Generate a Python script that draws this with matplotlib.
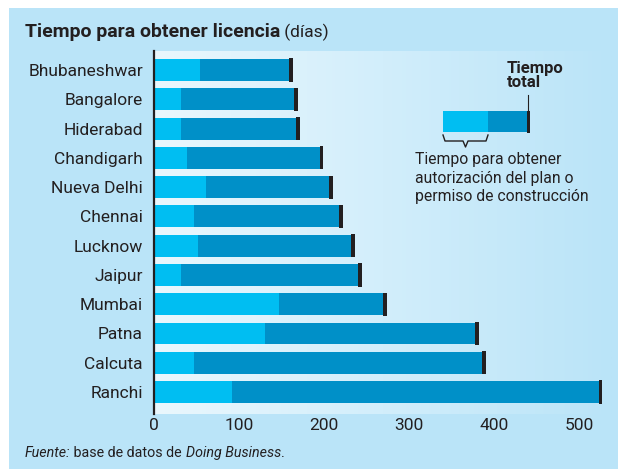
import matplotlib
matplotlib.use("Agg")
import matplotlib.pyplot as plt
import numpy as np
from matplotlib.patches import Rectangle
from matplotlib.lines import Line2D
from matplotlib.colors import LinearSegmentedColormap

plt.rcParams["font.family"] = ["Roboto", "DejaVu Sans"]

cities = ["Bhubaneshwar", "Bangalore", "Hiderabad", "Chandigarh", "Nueva Delhi",
          "Chennai", "Lucknow", "Jaipur", "Mumbai", "Patna", "Calcuta", "Ranchi"]
plan_days = [54, 32, 32, 39, 61, 47, 52, 32, 147, 130, 47, 92]
total_days = [163, 169, 171, 199, 210, 222, 236, 244, 274, 382, 390, 527]
xticks = [0, 100, 200, 300, 400, 500]

BG = "#BAE4F8"
LIGHT = "#00BEF2"
DARK = "#0090C8"
CAP = "#231F20"
CAP_W = 4.5

fig = plt.figure(figsize=(6.18, 4.69), dpi=100)
fig.patch.set_facecolor("white")
fig.patches.append(Rectangle((9 / 618, 0), 1, 1 - 8 / 469, transform=fig.transFigure,
                             facecolor=BG, edgecolor="none", zorder=-10))

ax = fig.add_axes([154 / 618, 1 - 414 / 469, (612 - 154) / 618, 363 / 469])
ax.patch.set_alpha(0)

# horizontal gradient panel behind the bars
grad = np.linspace(0, 1, 256).reshape(1, -1)
cmap = LinearSegmentedColormap.from_list("panel", ["#EAF7FD", "#D2EEFB", BG])
ax.imshow(grad, aspect="auto", cmap=cmap, extent=(0, 1, 0, 1),
          transform=ax.transAxes, zorder=0)

y = np.arange(len(cities))
h = 0.75
ax.barh(y, total_days, height=h, color=DARK, zorder=2)
ax.barh(y, plan_days, height=h, color=LIGHT, zorder=3)
ax.barh(y, [CAP_W] * len(cities), left=np.array(total_days) - CAP_W, height=h + 0.04,
        color=CAP, zorder=4)

ax.set_xlim(0, (612 - 154) / 0.851)
ax.set_ylim(11.75, -0.65)
ax.set_yticks(y)
ax.set_yticklabels(cities, fontsize=12.5, color=CAP)
ax.set_xticks(xticks)
ax.set_xticklabels([str(t) for t in xticks], fontsize=12.5, color=CAP)
ax.tick_params(axis="both", length=0)
ax.tick_params(axis="y", pad=8)
ax.tick_params(axis="x", pad=3)
for s in ["top", "right", "bottom"]:
    ax.spines[s].set_visible(False)
ax.spines["left"].set_color(CAP)
ax.spines["left"].set_linewidth(1.6)
ax.spines["left"].set_zorder(5)


# legend key, in axes fraction coordinates
def fx(px):
    return (px - 154) / 458


def fy(py):
    return (414 - py) / 363


ax.add_patch(Rectangle((fx(443), fy(132)), fx(530) - fx(443), fy(111) - fy(132),
                       transform=ax.transAxes, facecolor=DARK, edgecolor="none", zorder=6))
ax.add_patch(Rectangle((fx(443), fy(132)), fx(488) - fx(443), fy(111) - fy(132),
                       transform=ax.transAxes, facecolor=LIGHT, edgecolor="none", zorder=7))
ax.add_patch(Rectangle((fx(526.5), fy(132.5)), fx(530) - fx(526.5), fy(110.5) - fy(132.5),
                       transform=ax.transAxes, facecolor=CAP, edgecolor="none", zorder=8))
ax.add_line(Line2D([fx(527.5), fx(527.5)], [fy(111), fy(95)], transform=ax.transAxes,
                   color=CAP, lw=0.8, zorder=8))
brace_x = [443, 445, 463, 465.5, 468, 486, 488]
brace_y = [135, 141, 141, 147, 141, 141, 135]
ax.add_line(Line2D([fx(v) for v in brace_x], [fy(v) for v in brace_y],
                   transform=ax.transAxes, color=CAP, lw=1.0, zorder=8,
                   solid_joinstyle="round"))
ax.text(fx(507), fy(61), "Tiempo\ntotal", transform=ax.transAxes, ha="left", va="top",
        fontsize=12, fontweight="bold", color=CAP, linespacing=0.95, zorder=9)
ax.text(fx(415), fy(152), "Tiempo para obtener\nautorización del plan o\npermiso de construcción",
        transform=ax.transAxes, ha="left", va="top", fontsize=11.3, color=CAP,
        linespacing=1.3, zorder=9)


def chain(parts, x, ybase, size):
    fig.canvas.draw()
    r = fig.canvas.get_renderer()
    for txt, kw in parts:
        opts = {"fontsize": size}
        opts.update(kw)
        t = fig.text(x, ybase, txt, color=CAP, va="baseline", ha="left", **opts)
        bb = t.get_window_extent(renderer=r)
        x = x + bb.width / fig.bbox.width


chain([("Tiempo para obtener licencia", {"fontweight": "bold"}),
       (" (días)", {"fontsize": 12.5})], 25 / 618, 1 - 37 / 469, 14)
chain([("Fuente:", {"style": "italic"}),
       (" base de datos de ", {}),
       ("Doing Business", {"style": "italic"}),
       (".", {})], 25 / 618, 1 - 457 / 469, 10.3)

fig.savefig("out.png", dpi=100, facecolor=fig.get_facecolor())
